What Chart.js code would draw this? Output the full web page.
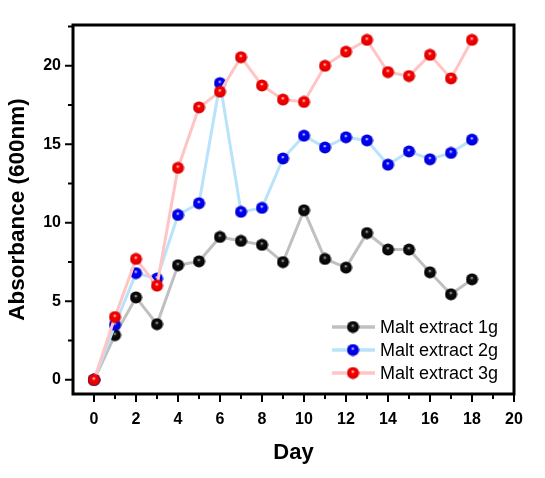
<!DOCTYPE html>
<html>
<head>
<meta charset="utf-8">
<script src="https://cdn.jsdelivr.net/npm/chart.js@4/dist/chart.umd.min.js"></script>
<style>
  html, body { margin: 0; padding: 0; background: #fff; }
  #wrap { width: 545px; height: 478px; }
</style>
</head>
<body>
<div id="wrap"><canvas id="chart" width="545" height="478"></canvas></div>
<script>
// data
const days = [0, 1, 2, 3, 4, 5, 6, 7, 8, 9, 10, 11, 12, 13, 14, 15, 16, 17, 18];
const malt1g = [0, 2.85, 5.25, 3.55, 7.3, 7.55, 9.1, 8.85, 8.6, 7.5, 10.8, 7.7, 7.15, 9.35, 8.3, 8.3, 6.85, 5.45, 6.4];
const malt2g = [0, 3.5, 6.8, 6.45, 10.5, 11.25, 18.9, 10.7, 10.95, 14.1, 15.55, 14.8, 15.45, 15.25, 13.7, 14.55, 14.05, 14.45, 15.3];
const malt3g = [0, 4.0, 7.7, 6.0, 13.5, 17.35, 18.35, 20.55, 18.75, 17.85, 17.7, 20.0, 20.9, 21.65, 19.6, 19.35, 20.7, 19.2, 21.65];
const seriesNames = ['Malt extract 1g', 'Malt extract 2g', 'Malt extract 3g'];
const xTicks = [0, 2, 4, 6, 8, 10, 12, 14, 16, 18, 20];
const yTicks = [0, 5, 10, 15, 20];

const FONT = '"Liberation Sans", Arial, sans-serif';

// shaded ball marker like the original plot
function makeBall(color, edge, hi) {
    const c = document.createElement('canvas');
    c.width = c.height = 13;
    const g = c.getContext('2d');
    const grad = g.createRadialGradient(6.3, 5, 0.3, 6.5, 6.5, 6.5);
    grad.addColorStop(0, hi);
    grad.addColorStop(0.22, color);
    grad.addColorStop(1, edge);
    g.fillStyle = grad;
    g.beginPath();
    g.arc(6.5, 6.5, 6, 0, Math.PI * 2);
    g.fill();
    return c;
}

const balls = [
    makeBall('#111111', '#000000', '#bbbbbb'),
    makeBall('#0000ff', '#0000c8', '#ffffff'),
    makeBall('#ff0000', '#d00000', '#ffffff')
];
const lineColors = ['#c0c0c0', '#b8e3fa', '#ffc4c4'];

function toPoints(arr) {
    return arr.map((v, i) => ({ x: days[i], y: v }));
}

// frame + major/minor ticks + inner legend
const framePlugin = {
    id: 'frame',
    afterDatasetsDraw(chart) {
        const ctx = chart.ctx;
        const a = chart.chartArea;
        const xs = chart.scales.x, ys = chart.scales.y;
        ctx.save();
        ctx.strokeStyle = '#000';
        ctx.lineWidth = 3;
        ctx.strokeRect(a.left, a.top, a.right - a.left, a.bottom - a.top);

        ctx.lineWidth = 2;
        ctx.beginPath();
        for (let i = 0; i < xTicks.length; i++) {
            const px = xs.getPixelForValue(xTicks[i]);
            ctx.moveTo(px, a.bottom);
            ctx.lineTo(px, a.bottom + 8);
            if (i < xTicks.length - 1) {
                const mx = xs.getPixelForValue((xTicks[i] + xTicks[i + 1]) / 2);
                ctx.moveTo(mx, a.bottom);
                ctx.lineTo(mx, a.bottom + 5);
            }
        }
        for (let i = 0; i < yTicks.length; i++) {
            const py = ys.getPixelForValue(yTicks[i]);
            ctx.moveTo(a.left, py);
            ctx.lineTo(a.left - 8, py);
            const my = ys.getPixelForValue(yTicks[i] + 2.5);
            ctx.moveTo(a.left, my);
            ctx.lineTo(a.left - 5, my);
        }
        ctx.stroke();

        // legend
        ctx.font = '18px ' + FONT;
        ctx.textBaseline = 'middle';
        ctx.fillStyle = '#000';
        chart.data.datasets.forEach((ds, i) => {
            const y = 327 + i * 23;
            ctx.strokeStyle = ds.borderColor;
            ctx.lineWidth = 3.5;
            ctx.beginPath();
            ctx.moveTo(332, y);
            ctx.lineTo(375, y);
            ctx.stroke();
            ctx.drawImage(balls[i], 353 - 6.5, y - 6.5);
            ctx.fillText(ds.label, 380, y + 1);
        });
        ctx.restore();
    }
};

new Chart(document.getElementById('chart'), {
    type: 'line',
    data: {
        datasets: [malt1g, malt2g, malt3g].map((vals, i) => ({
            label: seriesNames[i],
            data: toPoints(vals),
            borderColor: lineColors[i],
            borderWidth: 3,
            pointStyle: balls[i],
            pointRadius: 6,
            pointHoverRadius: 6,
            order: 3 - i,
            tension: 0
        }))
    },
    options: {
        responsive: false,
        animation: false,
        events: [],
        layout: { padding: { top: 25, right: 31, left: 0, bottom: 0 } },
        plugins: {
            legend: { display: false },
            tooltip: { enabled: false }
        },
        scales: {
            x: {
                type: 'linear',
                min: -1,
                max: 20,
                afterBuildTicks: s => { s.ticks = xTicks.map(v => ({ value: v })); },
                afterFit: s => { s.height = 84; },
                grid: { display: false, tickLength: 8 },
                border: { display: false },
                ticks: {
                    color: '#000',
                    padding: 8,
                    maxRotation: 0,
                    autoSkip: false,
                    font: { family: FONT, size: 16, weight: 'bold' }
                },
                title: {
                    display: true,
                    text: 'Day',
                    color: '#000',
                    padding: 12,
                    font: { family: FONT, size: 22, weight: 'bold' }
                }
            },
            y: {
                min: -0.9,
                max: 22.6,
                afterBuildTicks: s => { s.ticks = yTicks.map(v => ({ value: v })); },
                afterFit: s => { s.width = 73; },
                grid: { display: false, tickLength: 8 },
                border: { display: false },
                ticks: {
                    color: '#000',
                    padding: 4,
                    autoSkip: false,
                    font: { family: FONT, size: 16, weight: 'bold' }
                },
                title: {
                    display: true,
                    text: 'Absorbance (600nm)',
                    color: '#000',
                    padding: 4,
                    font: { family: FONT, size: 22.5, weight: 'bold' }
                }
            }
        }
    },
    plugins: [framePlugin]
});
</script>
</body>
</html>
